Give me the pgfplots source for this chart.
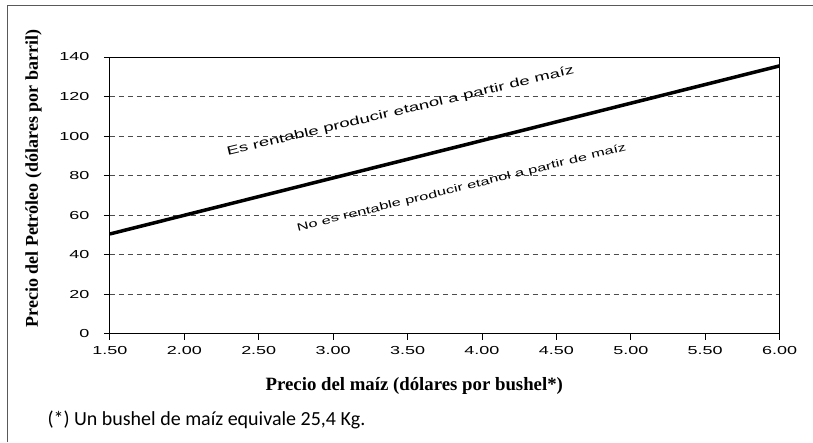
\documentclass[border=0pt]{standalone}
\usepackage{fontspec}
\usepackage{pgfplots}
\pgfplotsset{compat=1.18}
\setmainfont{Liberation Serif}
\newfontfamily\arialx[FakeStretch=1.55]{Liberation Sans}
\newfontfamily\calibri{Carlito}

\begin{document}
\begin{tikzpicture}[x=1pt,y=1pt]
% page area and the two visible sides of the frame
\path (-110,-108) rectangle (703,334);
\draw[black!65, line width=0.9pt] (-103,-108) -- (-103,329) -- (703,329);
\begin{axis}[
    at={(0,0)}, anchor=south west,
    width=670pt, height=277pt, scale only axis,
    xmin=1.5, xmax=6, ymin=0, ymax=140,
    xtick={1.5,2,...,6}, ytick={0,20,...,140},
    xtick pos=bottom, ytick pos=left,
    tick align=outside, major tick length=6pt,
    ymajorgrids,
    grid style={black!70, line width=0.7pt, dash pattern=on 5pt off 4pt},
    axis line style={line width=0.9pt},
    tick style={black, line width=0.9pt},
    /pgf/number format/assume math mode=true,
    x tick label style={yshift=-3pt,
        /pgf/number format/fixed,
        /pgf/number format/fixed zerofill,
        /pgf/number format/precision=2},
    tick label style={font=\arialx\fontsize{11.6}{13}\selectfont},
    yticklabel style={xshift=-11pt},
    xlabel={Precio del maíz (dólares por bushel*)},
    ylabel={Precio del Petróleo (dólares por barril)},
    xlabel style={font=\bfseries\fontsize{18.8}{22}\selectfont,
        at={(axis description cs:0.4545,-0.188)}, anchor=center},
    ylabel style={font=\bfseries\fontsize{18}{21}\selectfont,
        at={(axis description cs:-0.114,0.56)}, anchor=center},
]
\addplot[line width=3.5pt, black] coordinates {(1.5,50.5) (6,135.5)};
\node[rotate=13.3, anchor=base, font=\arialx\fontsize{12}{14}\selectfont]
    at (axis cs:3.458,110.9) {Es rentable producir etanol a partir de maíz};
\node[rotate=13.8, anchor=base, font=\arialx\fontsize{10.6}{13}\selectfont]
    at (axis cs:3.868,72.3) {No es rentable producir etanol a partir de maíz};
\end{axis}
\node[anchor=west, font=\calibri\fontsize{20}{23}\selectfont]
    at (-66,-86) {(*) Un bushel de maíz equivale 25,4 Kg.};
\end{tikzpicture}
\end{document}
